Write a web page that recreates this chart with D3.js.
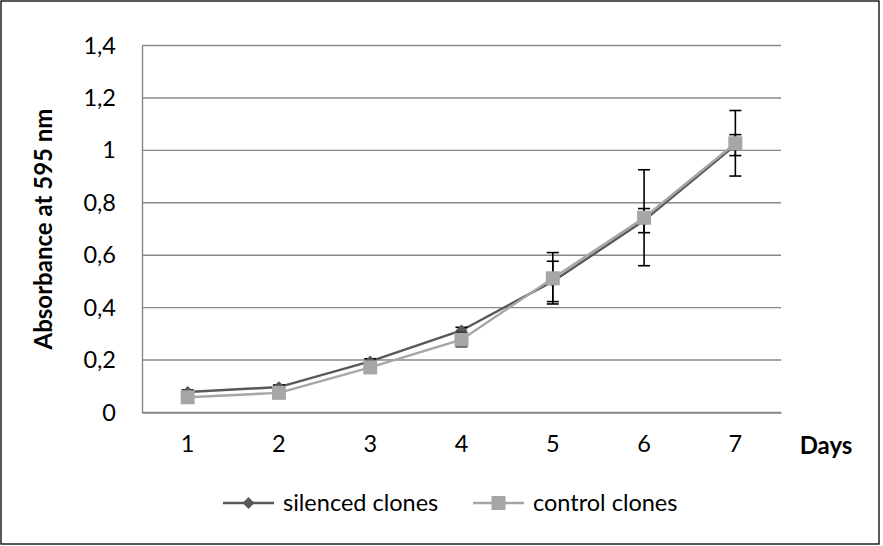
<!DOCTYPE html>
<html>
<head>
<meta charset="utf-8">
<script src="https://cdn.jsdelivr.net/npm/d3@7"></script>
<style>
  html, body { margin: 0; padding: 0; background: #fff; }
  svg { display: block; font-family: Lato, "Open Sans", sans-serif; }
</style>
</head>
<body>
<svg id="chart" width="883" height="546"></svg>
<script>
// Absorbance over time for silenced vs control clones
const days = ["1", "2", "3", "4", "5", "6", "7"];
const silenced = [0.078, 0.097, 0.195, 0.313, 0.500, 0.732, 1.020];
const silencedErr = [0.008, 0.008, 0.010, 0.012, 0.077, 0.046, 0.040];
const control = [0.058, 0.075, 0.172, 0.278, 0.512, 0.743, 1.027];
const controlErr = [0.010, 0.010, 0.015, 0.027, 0.098, 0.183, 0.125];
const yTicks = [0, 0.2, 0.4, 0.6, 0.8, 1.0, 1.2, 1.4];
const seriesNames = ["silenced clones", "control clones"];

const svg = d3.select("#chart");
const plot = { left: 142, right: 781, top: 45.5, bottom: 412.5 };
const fontSize = 23.5;

// outer frame
svg.append("rect")
  .attr("x", 1).attr("y", 1).attr("width", 878).attr("height", 543)
  .attr("fill", "#fff").attr("stroke", "#000").attr("stroke-width", 1.3);

const x = d3.scaleBand().domain(days).range([plot.left, plot.right]).padding(0);
const y = d3.scaleLinear().domain([0, 1.4]).range([plot.bottom, plot.top]);
const cx = d => x(d) + x.bandwidth() / 2;

// horizontal gridlines
svg.append("g")
  .selectAll("line").data(yTicks).join("line")
  .attr("x1", plot.left).attr("x2", plot.right)
  .attr("y1", d => y(d)).attr("y2", d => y(d))
  .attr("stroke", "#888").attr("stroke-width", 1.4);

// y axis
const yAxis = d3.axisLeft(y).tickValues(yTicks).tickSize(0).tickPadding(26)
  .tickFormat(d => d3.format("~g")(d).replace(".", ","));
const gy = svg.append("g").attr("transform", `translate(${plot.left},0)`).call(yAxis);
gy.select(".domain").attr("stroke", "#888").attr("stroke-width", 1.4);
gy.selectAll("text").attr("font-size", fontSize).attr("fill", "#000")
  .attr("font-family", "Lato, sans-serif");

// x axis
const xAxis = d3.axisBottom(x).tickSize(0).tickPadding(23);
const gx = svg.append("g").attr("transform", `translate(0,${plot.bottom})`).call(xAxis);
gx.select(".domain").attr("stroke", "#888").attr("stroke-width", 1.4);
gx.selectAll("text").attr("font-size", fontSize).attr("fill", "#000")
  .attr("font-family", "Lato, sans-serif");

// axis titles
svg.append("text")
  .attr("transform", `translate(52,${(plot.top + plot.bottom) / 2}) rotate(-90)`)
  .attr("text-anchor", "middle")
  .attr("font-size", 24).attr("font-weight", "bold").attr("fill", "#000")
  .text("Absorbance at 595 nm");
svg.append("text")
  .attr("x", 826).attr("y", 454)
  .attr("text-anchor", "middle")
  .attr("font-size", 24).attr("font-weight", "bold").attr("fill", "#000")
  .text("Days");

const line = d3.line().x((d, i) => cx(days[i])).y(d => y(d));

function drawErr(values, errs) {
  const g = svg.append("g").attr("stroke", "#000").attr("stroke-width", 1.6);
  values.forEach((v, i) => {
    const xc = cx(days[i]);
    const yt = y(v + errs[i]), yb = y(v - errs[i]);
    g.append("line").attr("x1", xc).attr("x2", xc).attr("y1", yt).attr("y2", yb);
    g.append("line").attr("x1", xc - 6).attr("x2", xc + 6).attr("y1", yt).attr("y2", yt);
    g.append("line").attr("x1", xc - 6).attr("x2", xc + 6).attr("y1", yb).attr("y2", yb);
  });
}

const diamond = d3.symbol().type(d3.symbolDiamond2).size(90);

// silenced clones
svg.append("path").datum(silenced).attr("d", line)
  .attr("fill", "none").attr("stroke", "#595959").attr("stroke-width", 2.4);
drawErr(silenced, silencedErr);
svg.append("g").selectAll("path").data(silenced).join("path")
  .attr("d", diamond)
  .attr("transform", (d, i) => `translate(${cx(days[i])},${y(d)})`)
  .attr("fill", "#595959");

// control clones
svg.append("path").datum(control).attr("d", line)
  .attr("fill", "none").attr("stroke", "#a6a6a6").attr("stroke-width", 2.4);
drawErr(control, controlErr);
svg.append("g").selectAll("rect").data(control).join("rect")
  .attr("x", (d, i) => cx(days[i]) - 7).attr("y", d => y(d) - 7)
  .attr("width", 14).attr("height", 14)
  .attr("fill", "#a6a6a6");

// legend
const legend = svg.append("g").attr("transform", "translate(0,503)");
const items = [
  { name: seriesNames[0], color: "#595959", x0: 223, marker: "diamond" },
  { name: seriesNames[1], color: "#a6a6a6", x0: 473, marker: "square" }
];
items.forEach(it => {
  legend.append("line").attr("x1", it.x0).attr("x2", it.x0 + 51)
    .attr("y1", 0).attr("y2", 0)
    .attr("stroke", it.color).attr("stroke-width", 2.4);
  if (it.marker === "diamond") {
    legend.append("path").attr("d", diamond)
      .attr("transform", `translate(${it.x0 + 25.5},0)`).attr("fill", it.color);
  } else {
    legend.append("rect").attr("x", it.x0 + 25.5 - 7).attr("y", -7)
      .attr("width", 14).attr("height", 14).attr("fill", it.color);
  }
  legend.append("text").attr("x", it.x0 + 60).attr("y", 0)
    .attr("dy", "0.35em").attr("font-size", fontSize).attr("fill", "#000")
    .text(it.name);
});
</script>
</body>
</html>
